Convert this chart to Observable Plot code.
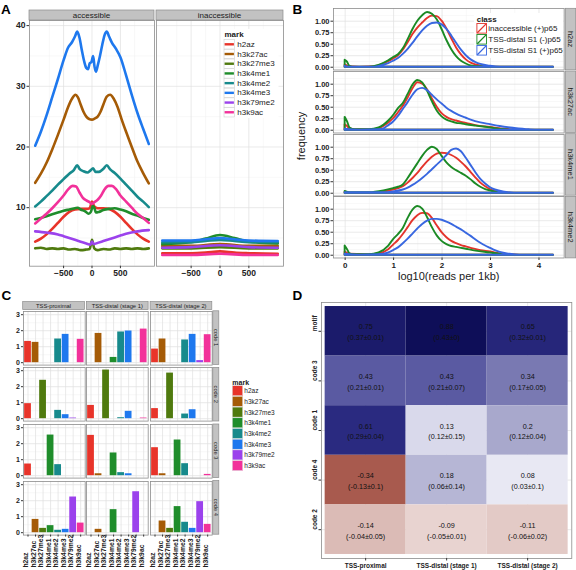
<!DOCTYPE html>
<html>
<head>
<meta charset="utf-8">
<script src="https://cdn.jsdelivr.net/npm/d3@7"></script>
<script src="https://cdn.jsdelivr.net/npm/@observablehq/plot@0.6"></script>
<style>
html,body{margin:0;padding:0;background:#fff;}
#fig{position:relative;width:576px;height:570px;overflow:hidden;background:#fff;}
</style>
</head>
<body>
<div id="fig"></div>
<script>
// ---------------- DATA ----------------
const marks = ["h2az","h3k27ac","h3k27me3","h3k4me1","h3k4me2","h3k4me3","h3k79me2","h3k9ac"];
const markColors = ["#e8342a","#a55b06","#4f7a0e","#1f8d2b","#178a8c","#1e78ee","#9b42ec","#f2319a"];

// Panel A: average profile (x = distance to center, y = signal)
const accH2az = [[-1000,4.4],[-900,4.9],[-800,5.6],[-700,6.5],[-600,7.5],[-500,8.5],[-400,9.3],[-300,9.7],[-200,9.8],[-100,9.8],[-40,9.9],[0,11.0],[40,10.2],[100,9.9],[200,9.9],[300,9.8],[400,9.3],[500,8.5],[600,7.5],[700,6.5],[800,5.6],[900,4.9],[1000,4.4]];
const accH3k27ac = [[-1000,14.1],[-900,15.6],[-800,17.4],[-700,19.6],[-600,22.0],[-500,24.5],[-420,26.6],[-350,28.0],[-290,28.6],[-250,28.2],[-200,27.0],[-150,25.8],[-100,25.0],[-50,24.6],[0,24.5],[50,24.7],[100,25.0],[150,25.8],[200,27.0],[260,28.3],[320,28.6],[380,28.0],[450,26.6],[520,24.6],[600,22.5],[700,20.0],[800,17.6],[900,15.7],[1000,14.0]];
const accH3k27me3 = [[-1000,3.3],[-900,3.4],[-800,3.2],[-700,3.3],[-600,3.2],[-500,3.3],[-400,3.1],[-300,3.2],[-200,3.0],[-100,3.1],[-40,3.2],[0,4.7],[40,3.3],[100,3.0],[200,3.2],[300,3.1],[400,3.3],[500,3.2],[600,3.3],[700,3.2],[800,3.3],[900,3.2],[1000,3.3]];
const accH3k4me1 = [[-1000,8.1],[-900,8.3],[-800,8.6],[-700,8.9],[-600,9.2],[-500,9.5],[-400,9.7],[-300,9.9],[-250,10.0],[-200,9.7],[-120,9.4],[-60,9.0],[-20,9.3],[15,10.3],[40,10.0],[70,9.2],[120,9.3],[200,9.6],[300,9.8],[400,9.9],[500,9.7],[600,9.4],[700,9.0],[800,8.7],[900,8.3],[1000,8.0]];
const accH3k4me2 = [[-1000,10.2],[-900,11.0],[-800,11.9],[-700,12.8],[-600,13.8],[-500,14.7],[-400,15.6],[-320,16.2],[-260,17.0],[-220,16.4],[-150,16.0],[-80,15.8],[-30,16.1],[20,16.5],[60,15.9],[120,15.9],[200,16.4],[260,17.0],[320,16.3],[400,15.7],[500,14.8],[600,13.8],[700,12.8],[800,11.8],[900,11.0],[1000,10.1]];
const accH3k4me3 = [[-1000,20.2],[-900,22.5],[-800,25.2],[-700,28.2],[-600,31.2],[-500,34.3],[-420,36.4],[-350,37.3],[-300,38.2],[-260,39.0],[-220,38.0],[-180,36.0],[-140,34.2],[-100,33.0],[-70,32.8],[-40,33.8],[-10,34.0],[20,35.0],[45,33.2],[70,32.4],[100,33.4],[140,35.0],[180,36.8],[220,38.4],[260,39.0],[300,38.2],[350,37.2],[420,36.2],[500,34.8],[600,31.8],[700,28.6],[800,25.6],[900,23.0],[1000,20.5]];
const accH3k79me2 = [[-1000,6.1],[-800,5.9],[-600,5.6],[-500,5.3],[-400,5.0],[-300,4.7],[-200,4.4],[-100,4.1],[-30,3.9],[0,4.4],[30,4.0],[100,4.2],[200,4.5],[300,4.8],[400,5.1],[500,5.4],[600,5.7],[800,6.1],[1000,6.3]];
const accH3k9ac = [[-1000,7.4],[-900,8.2],[-800,9.0],[-700,9.9],[-600,10.9],[-500,12.0],[-420,13.0],[-340,13.6],[-280,13.5],[-220,12.5],[-160,11.6],[-100,11.2],[-40,10.9],[0,10.6],[40,10.9],[100,11.3],[160,12.0],[220,13.0],[290,13.6],[350,13.6],[420,13.1],[500,12.0],[600,11.0],[700,10.0],[800,9.0],[900,8.3],[1000,7.5]];

const inaH2az = [[-1000,2.5],[-500,2.5],[-250,2.6],[0,2.8],[250,2.6],[500,2.5],[1000,2.4]];
const inaH3k27ac = [[-1000,3.7],[-500,3.7],[0,4.0],[500,3.7],[1000,3.7]];
const inaH3k27me3 = [[-1000,3.3],[-500,3.3],[0,3.5],[500,3.3],[1000,3.3]];
const inaH3k4me1 = [[-1000,4.0],[-500,4.3],[-250,4.9],[0,5.5],[250,5.0],[500,4.4],[1000,4.1]];
const inaH3k4me2 = [[-1000,4.3],[-500,4.3],[-250,4.5],[0,4.7],[250,4.5],[500,4.3],[1000,4.3]];
const inaH3k4me3 = [[-1000,4.6],[-500,4.6],[-250,4.8],[0,5.0],[250,4.8],[500,4.6],[1000,4.5]];
const inaH3k79me2 = [[-1000,3.4],[-500,3.5],[0,3.8],[500,3.5],[1000,3.4]];
const inaH3k9ac = [[-1000,2.2],[-500,2.2],[0,2.4],[500,2.2],[1000,2.2]];

const aFacets = ["accessible","inaccessible"];
const aTicksX = [-500,0,500];
const aTicksY = [10,20,30,40];

// Panel B: density of log10(reads per 1kb)
const bFacets = ["h2az","h3k27ac","h3k4me1","h3k4me2"];
const bClasses = ["inaccessible (+)p65","TSS-distal S1 (-)p65","TSS-distal S1 (+)p65"];
const bColors = ["#e3342c","#1b8a24","#3867e0"];

const h2azInacc = [[0,0.05],[0.1,0.01],[0.3,0],[0.6,0.01],[0.7,0.03],[0.9,0.12],[1.0,0.18],[1.1,0.25],[1.2,0.37],[1.3,0.53],[1.4,0.71],[1.5,0.85],[1.6,0.96],[1.7,1.06],[1.8,1.11],[1.9,1.1],[2.0,1.0],[2.1,0.83],[2.2,0.62],[2.3,0.42],[2.4,0.27],[2.5,0.16],[2.6,0.09],[2.7,0.05],[2.9,0.01],[3.1,0],[4.3,0]];
const h2azNeg = [[0,0.15],[0.04,0.12],[0.1,0.02],[0.2,0],[0.5,0],[0.7,0.04],[0.9,0.14],[1.0,0.21],[1.1,0.27],[1.2,0.4],[1.3,0.6],[1.4,0.82],[1.5,1.0],[1.6,1.12],[1.7,1.19],[1.8,1.15],[1.9,1.03],[2.0,0.82],[2.1,0.58],[2.2,0.38],[2.3,0.23],[2.4,0.13],[2.5,0.07],[2.6,0.03],[2.8,0.01],[3.0,0],[4.3,0]];
const h2azPos = [[0,0.02],[0.1,0],[0.6,0],[0.7,0.02],[0.9,0.08],[1.0,0.13],[1.1,0.19],[1.2,0.28],[1.3,0.39],[1.4,0.52],[1.5,0.66],[1.6,0.79],[1.7,0.89],[1.8,0.95],[1.9,0.96],[2.0,0.92],[2.1,0.82],[2.2,0.68],[2.3,0.52],[2.4,0.37],[2.5,0.25],[2.6,0.16],[2.7,0.1],[2.8,0.06],[3.0,0.02],[3.2,0],[4.3,0]];

const h3k27acInacc = [[0,0.12],[0.05,0.08],[0.1,0.03],[0.3,0.01],[0.6,0.01],[0.8,0.08],[1.0,0.25],[1.1,0.38],[1.2,0.52],[1.3,0.7],[1.4,0.9],[1.5,1.03],[1.6,1.0],[1.7,0.88],[1.8,0.68],[1.9,0.5],[2.0,0.36],[2.1,0.28],[2.2,0.23],[2.3,0.2],[2.4,0.17],[2.5,0.15],[2.7,0.1],[3.0,0.06],[3.3,0.02],[3.6,0],[4.3,0]];
const h3k27acNeg = [[0,0.28],[0.05,0.18],[0.1,0.05],[0.2,0.01],[0.5,0.01],[0.7,0.05],[0.9,0.2],[1.0,0.32],[1.1,0.47],[1.2,0.58],[1.3,0.78],[1.4,0.98],[1.5,1.08],[1.6,1.03],[1.7,0.85],[1.8,0.62],[1.9,0.42],[2.0,0.29],[2.1,0.22],[2.2,0.18],[2.3,0.15],[2.4,0.14],[2.5,0.12],[2.7,0.09],[3.0,0.05],[3.3,0.01],[3.5,0],[4.3,0]];
const h3k27acPos = [[0,0.02],[0.3,0],[0.7,0.01],[0.8,0.03],[0.9,0.1],[1.0,0.18],[1.1,0.3],[1.2,0.45],[1.3,0.6],[1.4,0.76],[1.5,0.88],[1.6,0.91],[1.7,0.86],[1.8,0.76],[1.9,0.66],[2.0,0.57],[2.1,0.48],[2.2,0.41],[2.3,0.35],[2.4,0.3],[2.5,0.26],[2.6,0.22],[2.8,0.16],[3.0,0.12],[3.2,0.08],[3.5,0.04],[3.8,0.01],[4.0,0],[4.3,0]];

const h3k4me1Inacc = [[0,0.02],[0.1,0],[0.6,0],[0.8,0.03],[1.0,0.07],[1.1,0.1],[1.2,0.14],[1.3,0.22],[1.4,0.32],[1.5,0.43],[1.6,0.56],[1.7,0.68],[1.8,0.78],[1.9,0.85],[2.0,0.87],[2.1,0.86],[2.2,0.82],[2.3,0.76],[2.4,0.67],[2.5,0.57],[2.6,0.45],[2.7,0.33],[2.8,0.22],[2.9,0.14],[3.0,0.08],[3.1,0.04],[3.3,0.01],[3.5,0],[4.3,0]];
const h3k4me1Neg = [[0,0.04],[0.1,0.01],[0.5,0.01],[0.8,0.05],[1.0,0.1],[1.1,0.13],[1.2,0.18],[1.3,0.32],[1.4,0.48],[1.5,0.64],[1.6,0.8],[1.7,0.93],[1.8,1.0],[1.9,0.95],[2.0,0.8],[2.1,0.66],[2.2,0.56],[2.3,0.49],[2.4,0.43],[2.5,0.37],[2.6,0.29],[2.7,0.2],[2.8,0.13],[2.9,0.08],[3.0,0.05],[3.2,0.01],[3.4,0],[4.3,0]];
const h3k4me1Pos = [[0,0.01],[0.8,0.01],[1.0,0.03],[1.2,0.07],[1.3,0.11],[1.4,0.17],[1.5,0.24],[1.6,0.32],[1.7,0.41],[1.8,0.51],[1.9,0.61],[2.0,0.71],[2.1,0.82],[2.2,0.93],[2.3,0.96],[2.4,0.9],[2.5,0.76],[2.6,0.6],[2.7,0.44],[2.8,0.3],[2.9,0.2],[3.0,0.12],[3.1,0.07],[3.3,0.02],[3.5,0],[4.3,0]];

const h3k4me2Inacc = [[0,0.07],[0.1,0.02],[0.4,0.01],[0.7,0.03],[0.9,0.12],[1.0,0.22],[1.1,0.32],[1.2,0.45],[1.3,0.6],[1.4,0.75],[1.5,0.86],[1.6,0.91],[1.7,0.9],[1.8,0.8],[1.9,0.64],[2.0,0.49],[2.1,0.38],[2.2,0.3],[2.3,0.25],[2.4,0.21],[2.5,0.18],[2.6,0.15],[2.8,0.1],[3.0,0.07],[3.2,0.03],[3.4,0.01],[3.6,0],[4.3,0]];
const h3k4me2Neg = [[0,0.2],[0.05,0.12],[0.1,0.03],[0.2,0.01],[0.5,0.01],[0.7,0.05],[0.9,0.2],[1.0,0.34],[1.1,0.45],[1.2,0.58],[1.3,0.8],[1.4,0.98],[1.5,1.06],[1.6,1.0],[1.7,0.82],[1.8,0.6],[1.9,0.42],[2.0,0.3],[2.1,0.23],[2.2,0.19],[2.3,0.17],[2.4,0.15],[2.5,0.13],[2.7,0.09],[3.0,0.05],[3.2,0.02],[3.4,0],[4.3,0]];
const h3k4me2Pos = [[0,0.02],[0.3,0],[0.7,0.01],[0.9,0.05],[1.0,0.1],[1.1,0.16],[1.2,0.25],[1.3,0.35],[1.4,0.46],[1.5,0.57],[1.6,0.67],[1.7,0.74],[1.8,0.78],[1.9,0.78],[2.0,0.76],[2.1,0.72],[2.2,0.67],[2.3,0.61],[2.4,0.55],[2.5,0.48],[2.6,0.41],[2.7,0.33],[2.8,0.26],[2.9,0.2],[3.0,0.15],[3.1,0.1],[3.2,0.06],[3.4,0.02],[3.6,0],[4.3,0]];

const bTicksX = [0,1,2,3,4];
const bTicksY = [0,0.25,0.5,0.75,1];

// Panel C: coefficient per mark (order = marks)
const cCols = ["TSS-proximal","TSS-distal (stage 1)","TSS-distal (stage 2)"];
const cRows = ["code 1","code 2","code 3","code 4"];
const code1Prox  = [1.33,1.27,0,0,1.48,1.77,0,1.46];
const code1Dist1 = [0,1.83,0,0.33,1.92,1.98,0,2.1];
const code1Dist2 = [0.85,1.48,0,0,1.42,1.77,0.13,1.75];
const code2Prox  = [0.94,0,2.4,0,0.52,0.25,0.04,0];
const code2Dist1 = [0.83,0,3.04,0,0.06,0.46,0,0.04];
const code2Dist2 = [0.63,0,2.85,0,0.29,0.56,0,0];
const code3Prox  = [0.73,0,0,2.54,0.69,0,0,0];
const code3Dist1 = [2.52,0.12,0,1.42,0.19,0.12,0,0];
const code3Dist2 = [1.75,0.12,0,2.23,0.75,0,0,0.08];
const code4Prox  = [0,0.83,0.27,0.44,0.15,0.21,2.23,0.6];
const code4Dist1 = [0,0.21,0,1.44,0,0,2.56,0];
const code4Dist2 = [0,0.73,0.27,1.63,0.65,0.27,1.94,0.52];
const cTicksY = [0,1,2,3];

// Panel D: [coefficient, mean, sd] per column
const dCols = ["TSS-proximal","TSS-distal (stage 1)","TSS-distal (stage 2)"];
const dRows = ["motif","code 3","code 1","code 4","code 2"];
const dMotif = [[0.75,0.37,0.01],[0.88,0.43,0],[0.65,0.32,0.01]];
const dCode3 = [[0.43,0.21,0.01],[0.43,0.21,0.07],[0.34,0.17,0.05]];
const dCode1 = [[0.61,0.29,0.04],[0.13,0.12,0.15],[0.2,0.12,0.04]];
const dCode4 = [[-0.34,-0.13,0.1],[0.18,0.06,0.14],[0.08,0.03,0.1]];
const dCode2 = [[-0.14,-0.04,0.05],[-0.09,-0.05,0.01],[-0.11,-0.06,0.02]];

// ---------------- DRAWING ----------------
const FONT = "'Liberation Sans', Arial, Helvetica, sans-serif";
const fig = document.getElementById("fig");
const MAJOR = {stroke:"#e0e0e0", strokeOpacity:1, strokeWidth:0.7};
const MINOR = {stroke:"#f0f0f0", strokeOpacity:1, strokeWidth:0.5};
const FRAME = {stroke:"#8c8c8c", strokeWidth:0.8};
const TICK = {tickSize:2.5, tickPadding:1.5, stroke:"#333", label:null};
const colMark = {domain: marks, range: markColors};

function panel(fr, opts, m = {}) {
  const l = m.l ?? 2, r = m.r ?? 2, t = m.t ?? 2, b = m.b ?? 2;
  const svg = Plot.plot({
    ...opts,
    width: l + fr.w + r, height: t + fr.h + b,
    marginLeft: l, marginRight: r, marginTop: t, marginBottom: b,
    style: {fontFamily: FONT, background: "none", overflow: "visible", color: "#222"}
  });
  svg.style.position = "absolute";
  svg.style.left = (fr.x - l) + "px";
  svg.style.top = (fr.y - t) + "px";
  fig.appendChild(svg);
  return svg;
}

// ---- Panel A ----
const accSeries = [accH2az,accH3k27ac,accH3k27me3,accH3k4me1,accH3k4me2,accH3k4me3,accH3k79me2,accH3k9ac];
const inaSeries = [inaH2az,inaH3k27ac,inaH3k27me3,inaH3k4me1,inaH3k4me2,inaH3k4me3,inaH3k79me2,inaH3k9ac];
const toRows = (series) => marks.flatMap((m, i) => series[i].map(([x, y]) => ({mark: m, x, y})));
[toRows(accSeries), toRows(inaSeries)].forEach((data, j) => {
  const fr = j === 0 ? {x:29, y:20, w:125, h:245.7} : {x:156, y:20, w:127, h:245.7};
  panel(fr, {
    x: {domain:[-1100,1100], label:null},
    y: {domain:[0.36,40.84], label:null, axis: j === 0 ? undefined : null},
    color: colMark,
    marks: [
      Plot.gridX([-750,-250,250,750], MINOR),
      Plot.gridY([5,15,25,35], MINOR),
      Plot.gridX(aTicksX, MAJOR),
      Plot.gridY(aTicksY, MAJOR),
      Plot.line(data, {x:"x", y:"y", z:"mark", stroke:"mark", strokeWidth:2.6, curve:"monotone-x"}),
      Plot.frame(FRAME),
      j === 0 ? Plot.axisY(aTicksY, {...TICK, fontSize:8.5, fontWeight:"bold"}) : null,
      Plot.axisX(aTicksX, {...TICK, fontSize:8.5, fontWeight:"bold"})
    ].filter(Boolean)
  }, {l:30, r:2, t:2, b:20});
});

// ---- Panel B ----
const bSeries = [
  [h2azInacc, h2azNeg, h2azPos],
  [h3k27acInacc, h3k27acNeg, h3k27acPos],
  [h3k4me1Inacc, h3k4me1Neg, h3k4me1Pos],
  [h3k4me2Inacc, h3k4me2Neg, h3k4me2Pos]
];
bFacets.forEach((name, i) => {
  const data = bClasses.flatMap((c, k) => bSeries[i][k].map(([x, y]) => ({cls: c, x, y})));
  const last = i === 3;
  panel({x:333.3, y:8.3 + i*62.7, w:230.7, h:61.5}, {
    x: {domain:[-0.24,4.52], label:null, axis: last ? undefined : null},
    y: {domain:[-0.06,1.276], label:null},
    color: {domain: bClasses, range: bColors},
    marks: [
      Plot.gridX([0.5,1.5,2.5,3.5,4.5], MINOR),
      Plot.gridY([0.125,0.375,0.625,0.875,1.125], MINOR),
      Plot.gridX(bTicksX, MAJOR),
      Plot.gridY(bTicksY, MAJOR),
      Plot.areaY(data, {x:"x", y1:0, y2:"y", z:"cls", stroke:"cls", fill:"none", strokeWidth:1.9, curve:"monotone-x"}),
      Plot.frame(FRAME),
      Plot.axisY(bTicksY, {...TICK, tickFormat:".2f", fontSize:7.5, fontWeight:"bold"}),
      last ? Plot.axisX(bTicksX, {...TICK, fontSize:8, fontWeight:"bold"}) : null
    ].filter(Boolean)
  }, {l:30, r:2, t:2, b:18});
});

// ---- Panel C ----
const cValues = [
  [code1Prox, code1Dist1, code1Dist2],
  [code2Prox, code2Dist1, code2Dist2],
  [code3Prox, code3Dist1, code3Dist2],
  [code4Prox, code4Dist1, code4Dist2]
];
cRows.forEach((rname, i) => cCols.forEach((cname, j) => {
  const data = marks.map((m, k) => ({mark: m, value: cValues[i][j][k]}));
  const bottom = i === 3;
  panel({x:22.7 + j*63.7, y:310.8 + i*56.6, w:61.7, h:53.6}, {
    x: {type:"band", domain: marks, paddingInner:0.1, paddingOuter:0.15, round:false, label:null, axis: bottom ? undefined : null},
    y: {domain:[-0.15,3.2], label:null, axis: j === 0 ? undefined : null},
    color: colMark,
    marks: [
      Plot.gridY([0.5,1.5,2.5], MINOR),
      Plot.gridY(cTicksY, MAJOR),
      Plot.gridX(marks, MAJOR),
      Plot.barY(data, {x:"mark", y1:0, y2:"value", fill:"mark"}),
      Plot.frame(FRAME),
      j === 0 ? Plot.axisY(cTicksY, {...TICK, tickSize:2, fontSize:7, fontWeight:"bold"}) : null,
      bottom ? Plot.axisX(marks, {tickSize:2, stroke:"#333", tickFormat: () => "", label:null}) : null,
      bottom ? Plot.text(marks, {x: d => d, text: d => d, frameAnchor:"bottom", dy:32.5, rotate:-90, textAnchor:"start", fontSize:6.8, fontWeight:"bold", fill:"#222"}) : null
    ].filter(Boolean)
  }, {l:20, r:2, t:2, b:36});
}));

// ---- Panel D ----
const dTable = [dMotif, dCode3, dCode1, dCode4, dCode2];
const dData = dRows.flatMap((r, i) => dCols.map((c, j) => ({row: r, col: c, coef: dTable[i][j][0], mean: dTable[i][j][1], sd: dTable[i][j][2]})));
panel({x:320.7, y:301.7, w:250.3, h:256}, {
  x: {type:"band", domain: dCols, paddingInner:0, paddingOuter:0.045, round:false, label:null},
  y: {type:"band", domain: dRows, paddingInner:0, paddingOuter:0.081, round:false, label:null},
  color: {type:"linear", domain:[-0.34,0,0.13,0.2,0.43,0.61,0.88],
          range:["#a85a4e","#ffffff","#d9d9eb","#a8a8cc","#5a5aa2","#2a2a80","#0e0e58"]},
  marks: [
    Plot.gridX(dCols, MAJOR),
    Plot.gridY(dRows, MAJOR),
    Plot.cell(dData, {x:"col", y:"row", fill:"coef"}),
    Plot.text(dData, {x:"col", y:"row", text: d => `${d.coef}\n(${d.mean}±${d.sd})`, fontSize:7.2, lineHeight:1.5, fill:"#111"}),
    Plot.frame(FRAME),
    Plot.axisX(dCols, {tickSize:2.5, tickPadding:2, stroke:"#333", fontSize:6.5, fontWeight:"bold", label:null}),
    Plot.axisY(dRows, {tickSize:2.5, stroke:"#333", tickFormat: () => "", label:null}),
    Plot.text(dRows, {y: d => d, text: d => d, frameAnchor:"left", dx:-6.5, rotate:-90, fontSize:6.5, fontWeight:"bold", fill:"#222"})
  ]
}, {l:20, r:4, t:2, b:16});

// ---------------- OVERLAY: strips, labels, legends ----------------
const ov = d3.create("svg").attr("width",576).attr("height",570)
  .attr("style", `position:absolute;left:0;top:0;font-family:${FONT};overflow:visible;pointer-events:none`);
function T(x, y, s, o = {}) {
  const t = ov.append("text").attr("x", x).attr("y", y)
    .attr("font-size", o.size ?? 8).attr("font-weight", o.weight ?? "normal")
    .attr("text-anchor", o.anchor ?? "start").attr("dominant-baseline", "central")
    .attr("fill", o.fill ?? "#1a1a1a").text(s);
  if (o.rotate) t.attr("transform", `rotate(${o.rotate},${x},${y})`);
  return t;
}
function R(x, y, w, h, fill, stroke, sw = 0.7) {
  return ov.append("rect").attr("x", x).attr("y", y).attr("width", w).attr("height", h)
    .attr("fill", fill).attr("stroke", stroke).attr("stroke-width", sw);
}
function L(x1, y1, x2, y2, stroke, sw) {
  return ov.append("line").attr("x1", x1).attr("y1", y1).attr("x2", x2).attr("y2", y2)
    .attr("stroke", stroke).attr("stroke-width", sw);
}
function strip(x, y, w, h, s, vertical, size) {
  R(x, y, w, h, "#c2c2c2", "#8c8c8c", 0.7);
  T(x + w/2, y + h/2, s, {size, anchor:"middle", rotate: vertical ? 90 : 0});
}

// panel letters
T(1, 9.2, "A", {size:13.5, weight:"bold", fill:"#000"});
T(292.5, 9.2, "B", {size:13.5, weight:"bold", fill:"#000"});
T(1.5, 295, "C", {size:13.5, weight:"bold", fill:"#000"});
T(292.5, 295, "D", {size:13.5, weight:"bold", fill:"#000"});

// A strips + legend
strip(29, 10, 125, 10, aFacets[0], false, 8);
strip(156, 10, 127, 10, aFacets[1], false, 8);
R(221.5, 29, 57, 89, "#fff", "none");
T(224.5, 34.3, "mark", {size:8, weight:"bold"});
marks.forEach((m, i) => {
  const cy = 44.3 + i * 9.71;
  R(224, cy - 4.7, 10.5, 9.4, "#fff", "#cfcfcf", 0.6);
  L(224.6, cy, 233.9, cy, markColors[i], 2.4);
  T(237.3, cy, m, {size:8});
});

// B strips, titles, legend
bFacets.forEach((f, i) => strip(565.3, 8.3 + i*62.7, 10.4, 61.5, f, true, 7.5));
T(301, 136, "frequency", {size:11, anchor:"middle", rotate:-90});
T(448.7, 276, "log10(reads per 1kb)", {size:11, anchor:"middle"});
R(474, 13, 89, 45, "#fff", "none");
T(476.7, 19.3, "class", {size:8, weight:"bold"});
bClasses.forEach((c, k) => {
  const cy = 28.3 + k * 11;
  R(476.9, cy - 4.8, 9.6, 9.6, "#fff", bColors[k], 0.9);
  L(477.3, cy + 4.4, 486.1, cy - 4.4, bColors[k], 1.3);
  T(488.3, cy, c, {size:8});
});

// C strips + legend
cCols.forEach((c, j) => strip(22.7 + j*63.7, 301.6, 61.7, 8, c, false, 5.8));
cRows.forEach((r, i) => strip(212.8, 310.8 + i*56.6, 6, 53.6, r, true, 5.8));
T(232.3, 382.5, "mark", {size:7, weight:"bold"});
marks.forEach((m, i) => {
  const cy = 390.7 + i * 10.7;
  R(232.3, cy - 5, 10.4, 10, markColors[i], "#e0e0e0", 0.5);
  T(244.3, cy, m, {size:6.5});
});

fig.appendChild(ov.node());
</script>
</body>
</html>
